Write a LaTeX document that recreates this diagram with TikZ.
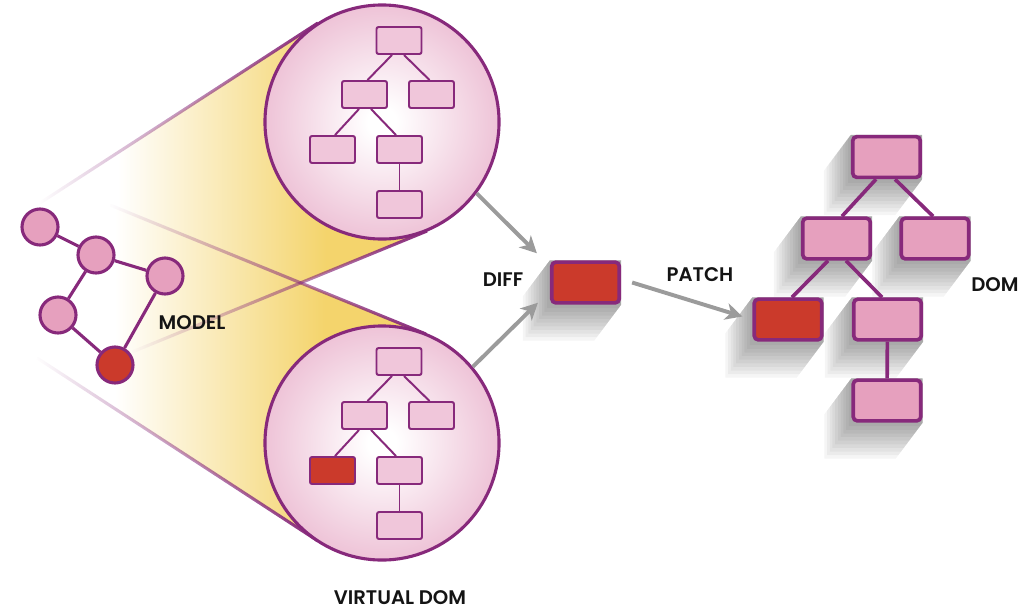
\documentclass[tikz,border=0pt]{standalone}
\usepackage{fontspec}
\setmainfont{Poppins}[BoldFont={Poppins SemiBold}]
\usetikzlibrary{arrows.meta,calc,fadings}

\definecolor{vpurple}{HTML}{87297B}
\definecolor{vpink}{HTML}{F0C6DA}
\definecolor{dpink}{HTML}{E6A0BE}
\definecolor{vred}{HTML}{CB3A2B}
\definecolor{vyellow}{HTML}{F4D46C}
\definecolor{vgray}{HTML}{9B9B9B}
\definecolor{bubpink}{HTML}{EEC3D7}

\pgfdeclareradialshading{bubble}{\pgfpoint{0bp}{0bp}}{color(0bp)=(white); color(3bp)=(white); color(25bp)=(bubpink); color(50bp)=(bubpink)}
\pgfdeclarehorizontalshading{cone}{100bp}{color(0bp)=(white); color(35bp)=(white); color(62bp)=(vyellow); color(100bp)=(vyellow)}
\tikzfading[name=outerfade, left color=transparent!100, right color=transparent!0]
\tikzfading[name=innerfade, left color=transparent!100, middle color=transparent!85, right color=transparent!0]
\pgfdeclarelayer{bg}
\pgfsetlayers{bg,main}

\begin{document}
\begin{tikzpicture}[x=0.025cm, y=-0.025cm,
    lbl/.style={font=\fontsize{14}{17}\selectfont\bfseries, text=black!92, inner sep=0pt},
    vcircle/.style={circle, draw=vpurple, line width=2.2pt, shading=bubble, minimum size=5.85cm, inner sep=0pt},
    vbox/.style={draw=vpurple, fill=vpink, line width=1.4pt, rounded corners=1.5pt, minimum width=1.125cm, minimum height=0.675cm, inner sep=0pt},
    dbox/.style={draw=vpurple, fill=dpink, line width=2.6pt, rounded corners=3pt, minimum width=1.69cm, minimum height=1.02cm, inner sep=0pt},
    mnode/.style={circle, draw=vpurple, fill=dpink, line width=2.2pt, minimum size=0.9cm, inner sep=0pt},
    outeredge/.style={draw=vpurple, line width=2.2pt, path fading=outerfade},
    inneredge/.style={draw=vpurple, line width=2.2pt, path fading=innerfade},
    vline/.style={draw=vpurple, line width=1.4pt},
    dline/.style={draw=vpurple, line width=2.6pt},
    mline/.style={draw=vpurple, line width=2.2pt},
    flow/.style={draw=vgray, line width=2.8pt, -{Stealth[length=12pt, width=12pt, inset=3.5pt]}},
    longshadow/.style={fill=black, opacity=0.04}
]
\useasboundingbox (0,0) rectangle (1024,613);

\coordinate (topA) at (40,203);
\coordinate (topB) at (132,352);
\coordinate (topTa) at (318,23);
\coordinate (topTb) at (427,231);
\coordinate (botA) at (110,205);
\coordinate (botB) at (37,358);
\coordinate (botTa) at (426,334);
\coordinate (botTb) at (318,541);

\shade[shading=cone] (topA) -- (topTa) -- (382,122) -- (topTb) -- (topB) -- cycle;
\shade[shading=cone] (botA) -- (botTa) -- (382,443) -- (botTb) -- (botB) -- cycle;
\draw[outeredge] (topA) -- (topTa);
\draw[outeredge] (botB) -- (botTb);
\draw[inneredge] (topB) -- (topTb);
\draw[inneredge] (botA) -- (botTa);

\node[vcircle] (vtop) at (382,122) {};
\node[vcircle] (vbot) at (382,443) {};

\foreach \c/\cy/\lc in {vt/122/vpink, vb/443/vred}{
  \node[vbox] (\c1) at (399,\cy-81.5) {};
  \node[vbox] (\c2) at (364.5,\cy-27.5) {};
  \node[vbox] (\c3) at (431.5,\cy-27.5) {};
  \node[vbox, fill=\lc] (\c4) at (332.5,\cy+27.5) {};
  \node[vbox] (\c5) at (399.5,\cy+27.5) {};
  \node[vbox] (\c6) at (399.5,\cy+82.5) {};
  \draw[vline] ($(\c1.south)+(-7,0)$) -- ($(\c2.north)+(3,0)$);
  \draw[vline] ($(\c1.south)+(5,0)$) -- ($(\c3.north)+(-2,0)$);
  \draw[vline] ($(\c2.south)+(-5.5,0)$) -- ($(\c4.north)+(2.5,0)$);
  \draw[vline] ($(\c2.south)+(6.5,0)$) -- ($(\c5.north)+(-3.5,0)$);
  \draw[vline] (\c5) -- (\c6);
}

\node[mnode] (m1) at (40,227) {};
\node[mnode] (m2) at (96,255) {};
\node[mnode] (m3) at (165,276) {};
\node[mnode] (m4) at (58,315) {};
\node[mnode, fill=vred] (m5) at (115,365) {};
\draw[mline] (m1) -- (m2) (m2) -- (m3) (m2) -- (m4) (m4) -- (m5) (m3) -- (m5);

\node[dbox, fill=vred] (diff) at (585.5,282.5) {};
\node[dbox] (d1) at (886.5,157) {};
\node[dbox] (d2) at (836.5,238.5) {};
\node[dbox] (d3) at (935,238.5) {};
\node[dbox, fill=vred] (d4) at (788,319.5) {};
\node[dbox] (d5) at (887.5,319.5) {};
\node[dbox] (d6) at (887,400.5) {};
\draw[dline] ($(d1.south)+(-10.5,0)$) -- ($(d2.north)+(5.5,0)$);
\draw[dline] ($(d1.south)+(8.5,0)$) -- ($(d3.north)+(-2,0)$);
\draw[dline] ($(d2.south)+(-8.5,0)$) -- ($(d4.north)+(4,0)$);
\draw[dline] ($(d2.south)+(9.5,0)$) -- ($(d5.north)+(-5.5,0)$);
\draw[dline] (d5) -- (d6);

\begin{pgfonlayer}{bg}
\foreach \n in {diff,d1,d2,d3,d4,d5,d6}
  \foreach \k in {1,...,10}
    \path[longshadow] (\n.north west) -- ($(\n.north west)+(-2.7*\k,3.6*\k)$) -- ($(\n.south west)+(-2.7*\k,3.6*\k)$) -- ($(\n.south east)+(-2.7*\k,3.6*\k)$) -- (\n.south east) -- (\n.north east) -- cycle;
\end{pgfonlayer}

\draw[flow] (vtop.-37) -- ($(diff.north west)+(-13,-7)$);
\draw[flow] (vbot.40) -- ($(diff.south west)+(-12,-2)$);
\draw[flow] ($(diff.east)+(11,0)$) -- ($(d4.west)+(-10,-3)$);

\node[lbl] (model) at (192,323) {MODEL};
\node[lbl] (difflbl) at (503,280) {DIFF};
\node[lbl] (patchlbl) at (700,275) {PATCH};
\node[lbl] (domlbl) at (995,285) {DOM};
\node[lbl] (vdomlbl) at (400,598) {VIRTUAL DOM};
\end{tikzpicture}
\end{document}
